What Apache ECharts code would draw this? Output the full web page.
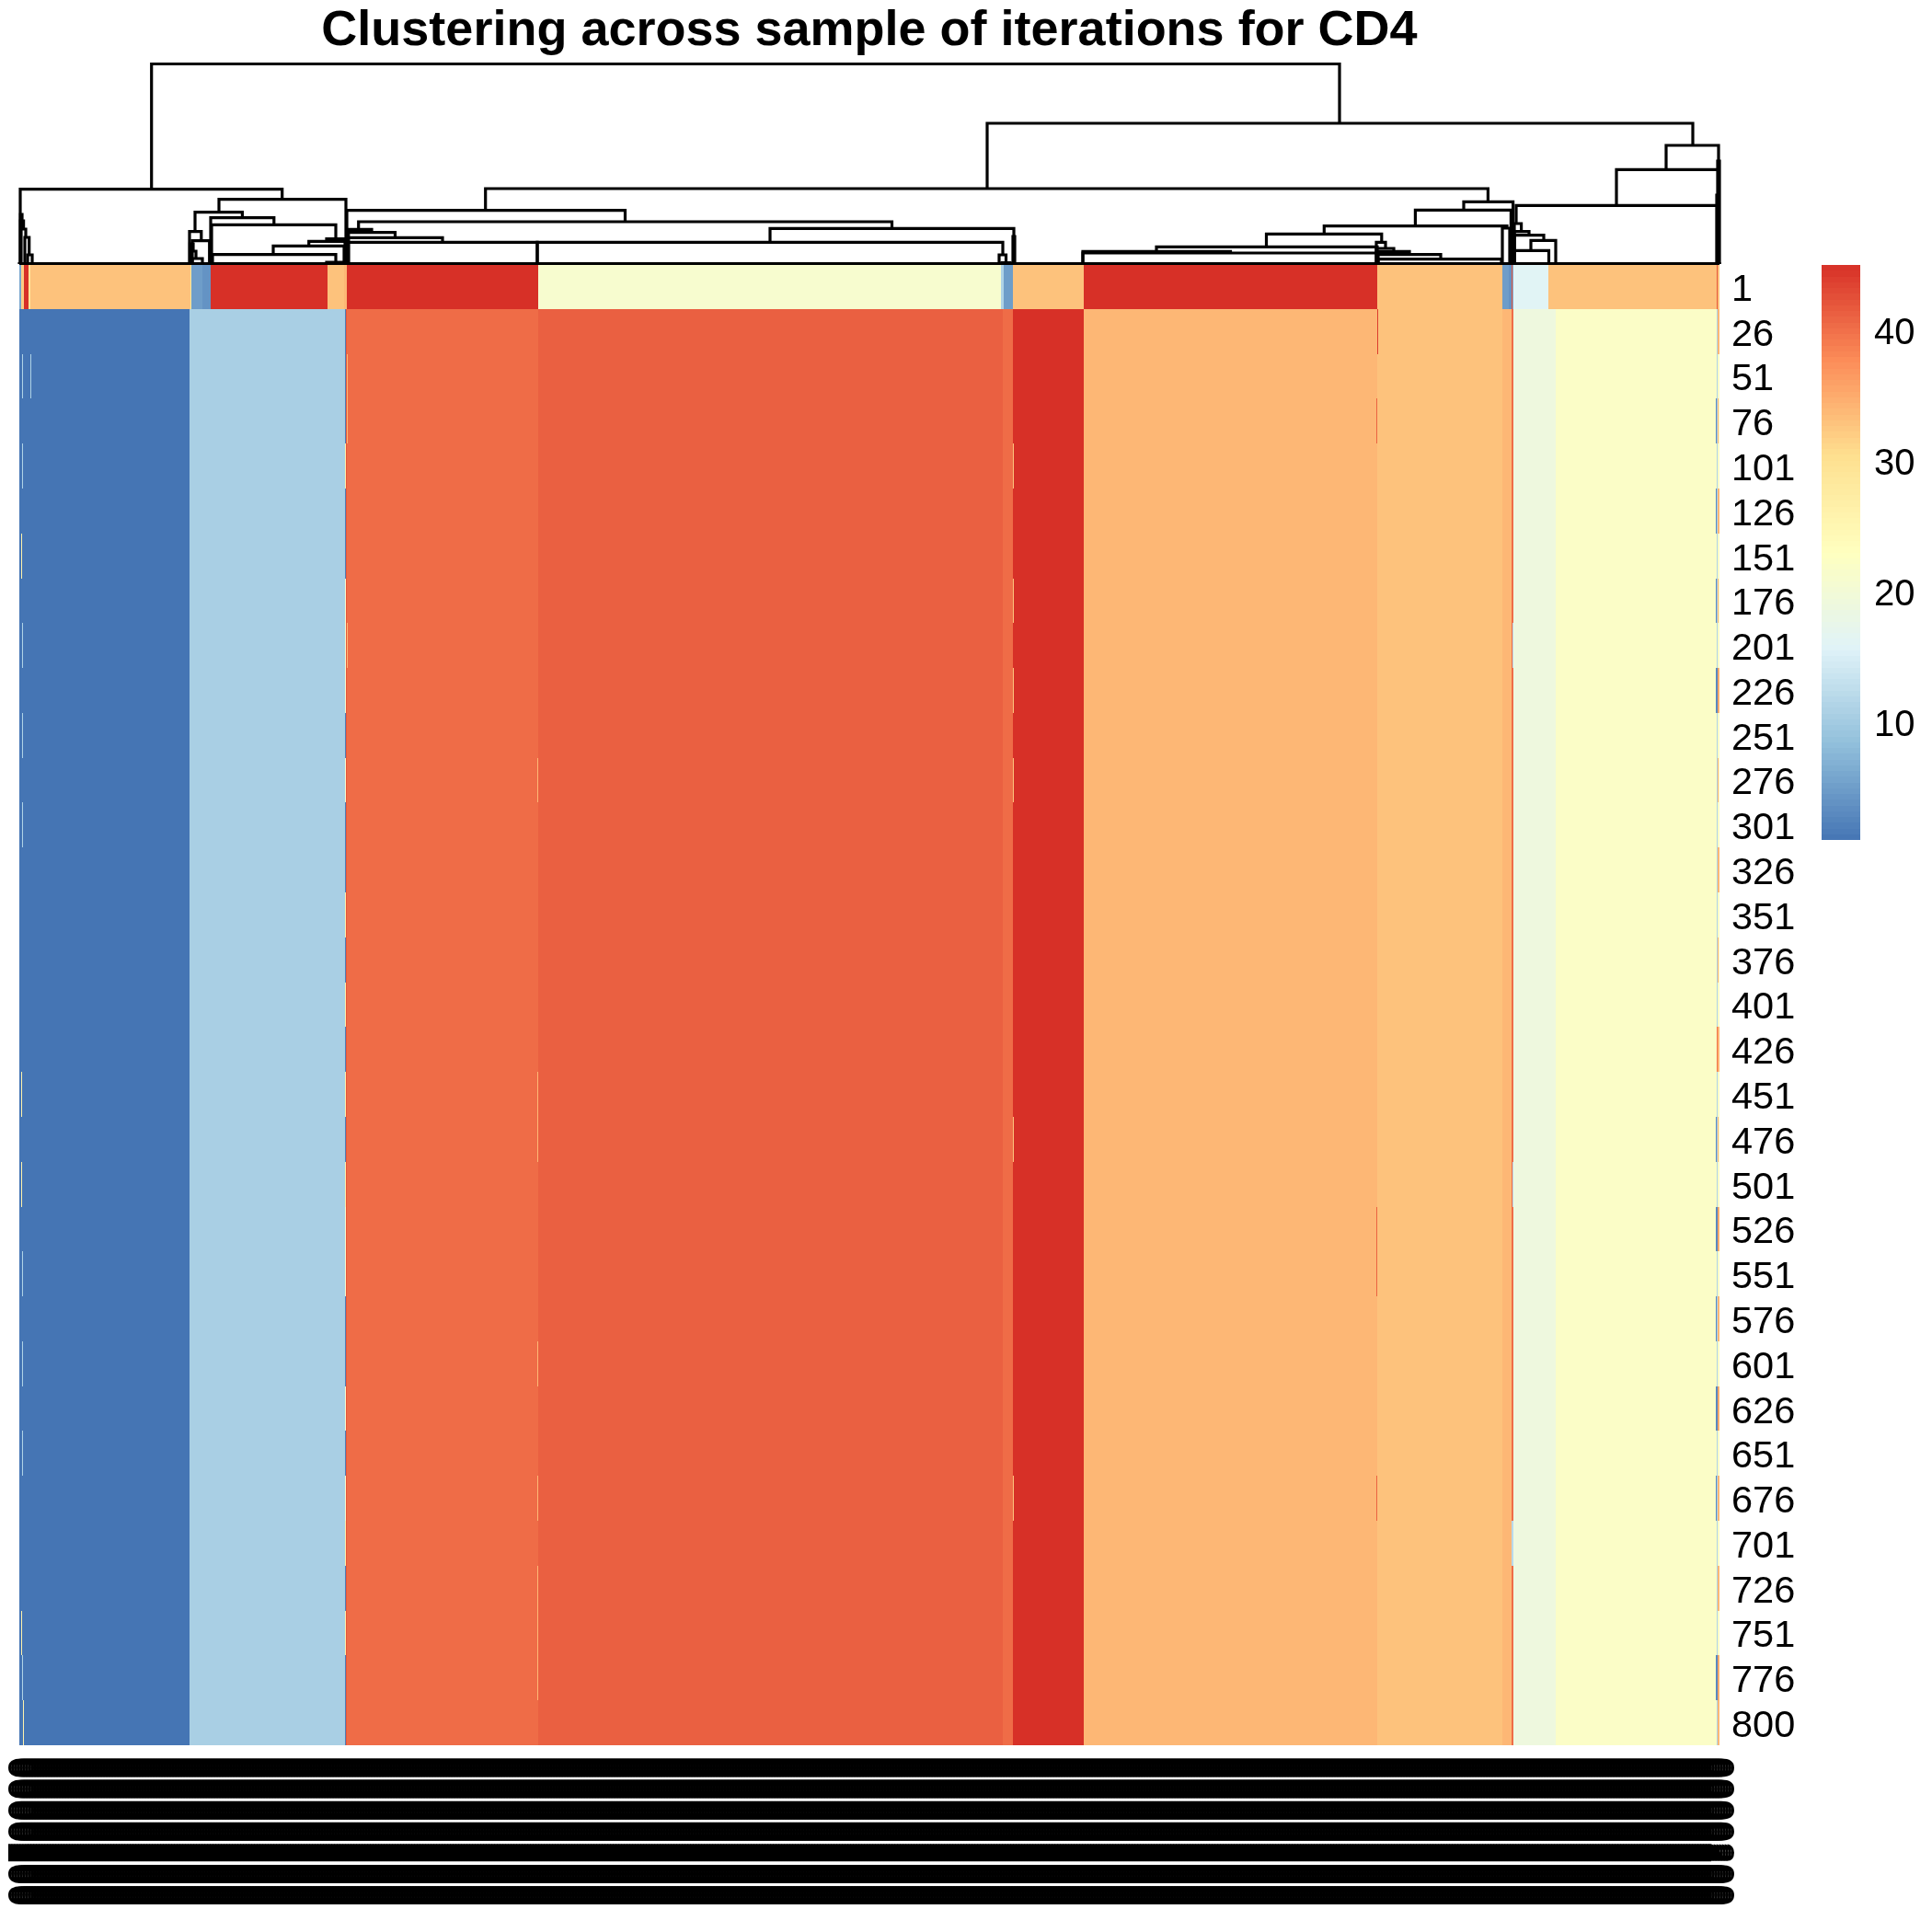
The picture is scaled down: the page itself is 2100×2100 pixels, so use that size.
<!DOCTYPE html>
<html>
<head>
<meta charset="utf-8">
<style>html,body{margin:0;padding:0;background:#fff}#chart{width:2100px;height:2100px}</style>
<script src="https://cdn.jsdelivr.net/npm/echarts@6/dist/echarts.min.js"></script>
</head>
<body>
<div id="chart"></div>
<script>
var titleText = "Clustering across sample of iterations for CD4";
var rowLabels = ["1","26","51","76","101","126","151","176","201","226","251","276","301","326","351","376","401","426","451","476","501","526","551","576","601","626","651","676","701","726","751","776","800"];
var paletteColors = ["#4575B4","#91BFDB","#E0F3F8","#FFFFBF","#FEE090","#FC8D59","#D73027"];
var legendTicks = [10,20,30,40];

// column position runs along the heatmap, first row (iteration 1)
var firstRowEdges  = [21,23,26,31,33,207,208,220,229,356,374,377,585,1088,1091,1101,1178,1497,1633,1640,1643,1644,1645,1683,1866,1867,1869];
var firstRowValues = [6,32,45,29,33,28,5,4,45,33,34,45,21,11,5,33,45,33,5,4,42,6,16,33,42,33];

// column position runs, all remaining rows
var bodyEdges  = [21,206,375,376,377,585,1090,1101,1178,1497,1633,1643,1645,1691,1866,1867,1869];
var bodyValues = [1,10.6,2,42,40.3,41.2,40.3,45,34,33,34,40.3,19,22,11,22];

// single-row deviations in the narrow columns
var streakStart = [24,33,23,25,375,375,377,584,1101,1497,1496,1644,1643,1865,1866,1867,1867,1866,1867,1868];
var streakEnd   = [25,34,24,26,376,376,378,585,1102,1498,1497,1645,1645,1866,1867,1869,1868,1867,1868,1869];
var streakValue = [11,11,26,26,26,21,34,34,33,44,41,12,12,3,40,34,34,3,36,34];
var streakRows  = [
  [2,4,8,10,12,22,24,26,31],
  [2],
  [6,18,20,30],
  [32],
  [4,14,16,18,20,28,30],
  [7,8,9,11,21,22,25,27],
  [2,3,8],
  [11,18,19,24,27,29,30,31],
  [4,7,9,11,19,27],
  [1],
  [3,21,22,27],
  [8,20],
  [28],
  [3,5,7,9,19,21,23,25,27,31],
  [17],
  [1,5,13,17,23,27,29,32],
  [3,7,11,15,19],
  [9,21,25,31],
  [9,21,25,31],
  [9,21,25,31]
];

// dendrogram merges: left x, left child height, right x, right child height, merge height
var dendroMerges = [
  [21,0,1869,0,0.5],
  [164.7,81.4,1456,153,217.5],
  [1073,82,1840,129,153],
  [22,0,306.7,70.3,81.4],
  [238,56.3,376,0,70.3],
  [212,35.3,263.4,50.3,56.3],
  [206,0,218.8,25.3,35.3],
  [209,0,227.7,0,25.3],
  [206.5,0,210,14,22],
  [207,0,213,6,14],
  [209,0,220,0,6],
  [229,0,297.8,42.7,50.3],
  [230,0,365,27.5,42.7],
  [355,24.7,376,0,27.5],
  [335.7,19.7,375,0,24.7],
  [297,10.3,374,0,19.7],
  [231,0,365,2,10.3],
  [355,0,375,0,2],
  [22.3,0,24,47,54],
  [22.3,0,25.6,38,47],
  [23,0,28,29,38],
  [27,0,31.7,10,29],
  [30,0,35,0,10],
  [527.7,58.3,1617.4,67.7,82],
  [377,0,679.5,46,58.3],
  [389.7,37.7,969.5,38.7,46],
  [378.6,0,404,34.3,37.7],
  [378.6,0,429.5,28.7,34.3],
  [378.6,0,481,23.7,28.7],
  [378.6,0,584,0,23.7],
  [837,23.7,1102,30,38.7],
  [1101,0,1103,0,30],
  [584,0,1090,10,23.7],
  [1086,0,1093.5,1.5,10],
  [1089,0,1098,0,1.5],
  [1591,58.7,1644.6,0,67.7],
  [1538.4,41.3,1642.4,0,58.7],
  [1439.3,32.7,1638,39,41.3],
  [1633,0,1641,0,39],
  [1376.5,18.7,1501.8,23.7,32.7],
  [1257,13.7,1497,0,18.7],
  [1177,0,1337.5,12,13.7],
  [1177,0,1497,0,12],
  [1496,0,1506,17,23.7],
  [1496,0,1515,13.7,17],
  [1497,0,1532,10.3,13.7],
  [1498,0,1566,5.3,10.3],
  [1498,0,1632,0,5.3],
  [1811,102.7,1868,0,129],
  [1757,63.7,1868,0,102.7],
  [1648,44,1866.5,0,63.7],
  [1867,0,1869,0,112],
  [1866,0,1868,0,75],
  [1646,0,1653.6,35.3,44],
  [1646,0,1662,31.3,35.3],
  [1646,0,1678,25.7,31.3],
  [1664,14.7,1691,0,25.7],
  [1646,0,1683.5,0,14.7]
];

// the many column labels of the original print on top of each other
var columnLabelCount = 617;
var columnLabelText = "0000200";

var FONT = '"Liberation Sans", Arial, Helvetica, sans-serif';

var heatData = [];
var r, i, k;
for (i = 0; i < firstRowValues.length; i++) {
  heatData.push([firstRowEdges[i], firstRowEdges[i+1], 0, firstRowValues[i]]);
}
for (r = 1; r < rowLabels.length; r++) {
  for (i = 0; i < bodyValues.length; i++) {
    heatData.push([bodyEdges[i], bodyEdges[i+1], r, bodyValues[i]]);
  }
}
for (i = 0; i < streakStart.length; i++) {
  for (k = 0; k < streakRows[i].length; k++) {
    heatData.push([streakStart[i], streakEnd[i], streakRows[i][k], streakValue[i]]);
  }
}

var legendData = [];
var legendMin = 1, legendMax = 45, legendBands = 100;
for (i = 0; i < legendBands; i++) {
  var lo = legendMin + (legendMax - legendMin) * i / legendBands;
  var hi = legendMin + (legendMax - legendMin) * (i + 1) / legendBands;
  legendData.push([lo, hi, 0, (lo + hi) / 2]);
}

var columnLabels = [];
for (i = 0; i < columnLabelCount; i++) columnLabels.push(columnLabelText);

function renderCell(params, api) {
  var a = api.coord([api.value(0), api.value(2)]);
  var b = api.coord([api.value(1), api.value(2)]);
  var band = api.size([0, 1])[1];
  var x0 = Math.round(a[0]), x1 = Math.max(Math.round(b[0]), x0 + 1);
  var y0 = Math.round(a[1] - band / 2), y1 = Math.round(a[1] + band / 2);
  return {type: 'rect', shape: {x: x0, y: y0, width: x1 - x0, height: y1 - y0},
          style: {fill: api.visual('color')}};
}
function renderBand(params, api) {
  var a = api.coord([0, api.value(0)]);
  var b = api.coord([1, api.value(1)]);
  var y0 = Math.round(b[1]), y1 = Math.round(a[1]);
  return {type: 'rect', shape: {x: a[0], y: y0, width: b[0] - a[0], height: y1 - y0},
          style: {fill: api.visual('color')}};
}
function renderMerge(params, api) {
  var xl = api.value(0), yl = api.value(1), xr = api.value(2), yr = api.value(3), ym = api.value(4);
  return {type: 'polyline',
          shape: {points: [api.coord([xl, yl]), api.coord([xl, ym]), api.coord([xr, ym]), api.coord([xr, yr])]},
          style: {fill: null, stroke: '#000', lineWidth: 3.2, lineJoin: 'miter', lineCap: 'butt'}};
}

var chart = echarts.init(document.getElementById('chart'), null, {renderer: 'canvas', width: 2100, height: 2100});
chart.setOption({
  animation: false,
  backgroundColor: '#fff',
  title: {text: titleText, left: 940, top: 2, textAlign: 'center',
          textStyle: {fontFamily: FONT, fontWeight: 'bold', fontSize: 54, color: '#000'}},
  grid: [
    {left: 21, top: 60, width: 1848, height: 227, outerBoundsMode: 'none'},
    {left: 21, top: 287, width: 1848, height: 1610, outerBoundsMode: 'none'},
    {left: 1980, top: 288, width: 42, height: 625, outerBoundsMode: 'none'},
    {left: 20, top: 1896, width: 1848, height: 1, outerBoundsMode: 'none'},
    {left: 21, top: 291, width: 1848, height: 1610, outerBoundsMode: 'none'},
    {left: 1980, top: 292, width: 42, height: 625, outerBoundsMode: 'none'}
  ],
  xAxis: [
    {gridIndex: 0, type: 'value', min: 21, max: 1869, show: false},
    {gridIndex: 1, type: 'value', min: 21, max: 1869, show: false},
    {gridIndex: 2, type: 'value', min: 0, max: 1, show: false},
    {gridIndex: 3, type: 'category', data: columnLabels, boundaryGap: false, position: 'bottom',
     axisLine: {show: false}, axisTick: {show: false},
     axisLabel: {show: true, interval: 0, rotate: -90, margin: 13, hideOverlap: false,
                 fontFamily: FONT, fontSize: 41.5, color: '#000'}},
    {gridIndex: 4, type: 'value', min: 21, max: 1869, show: false},
    {gridIndex: 5, type: 'value', min: 0, max: 1, show: false}
  ],
  yAxis: [
    {gridIndex: 0, type: 'value', min: 0, max: 227, show: false},
    {gridIndex: 1, type: 'category', data: rowLabels, inverse: true, show: false},
    {gridIndex: 2, type: 'value', min: legendMin, max: legendMax, show: false},
    {gridIndex: 3, type: 'value', show: false},
    {gridIndex: 4, type: 'category', data: rowLabels, inverse: true, position: 'right',
     axisLine: {show: false}, axisTick: {show: false},
     axisLabel: {show: true, interval: 0, margin: 13, fontFamily: FONT, fontSize: 41.5, color: '#000'}},
    {gridIndex: 5, type: 'value', min: legendMin, max: legendMax, position: 'right',
     axisLine: {show: false}, axisTick: {show: false}, splitLine: {show: false},
     axisLabel: {show: true, customValues: legendTicks, margin: 15, fontFamily: FONT, fontSize: 40, color: '#000'}}
  ],
  visualMap: {show: false, type: 'continuous', min: legendMin, max: legendMax, dimension: 3,
              seriesIndex: [1, 2], inRange: {color: paletteColors}},
  series: [
    {type: 'custom', name: 'dendrogram', xAxisIndex: 0, yAxisIndex: 0, clip: false, silent: true,
     renderItem: renderMerge, data: dendroMerges, z: 3},
    {type: 'custom', name: 'clusters', xAxisIndex: 1, yAxisIndex: 1, clip: false, silent: true,
     renderItem: renderCell, data: heatData, z: 2,
     encode: {x: [0, 1], y: 2}, dimensions: ['x0', 'x1', 'row', 'value']},
    {type: 'custom', name: 'scale', xAxisIndex: 2, yAxisIndex: 2, clip: false, silent: true,
     renderItem: renderBand, data: legendData, z: 2,
     encode: {y: [0, 1]}, dimensions: ['lo', 'hi', 'x', 'value']}
  ]
});
</script>
</body>
</html>
